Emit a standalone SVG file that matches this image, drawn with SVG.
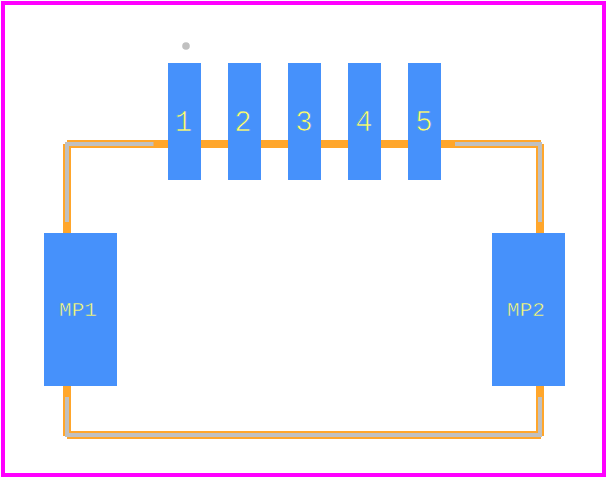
<svg xmlns="http://www.w3.org/2000/svg" width="608" height="478" viewBox="0 0 608 478">
<style>
.pad{fill:#4691fb}
.or{fill:none;stroke:#ffa62b;stroke-width:8}
.gr{fill:none;stroke:#c0c0c0;stroke-width:4}
.t{fill:#ffff66;stroke:#4691fb;stroke-width:.7px;font-family:"Liberation Mono",monospace;text-anchor:middle}
.n{font-size:29px}
.m{font-size:21px;stroke-width:.5px}
</style>
<rect width="608" height="478" fill="#fff"/>
<rect x="3" y="3" width="601" height="472" fill="none" stroke="#ff00ff" stroke-width="4"/>
<g id="connectors">
<path class="or" d="M67 144H541M67 435H541M67 144V233M540 144V233M67 386V436M540 386V436"/>
<path class="gr" d="M153.500 144H67V222M455 144H540V222M67 397V435H540V397"/>
<circle cx="186" cy="46" r="3.800" fill="#c0c0c0"/>
</g>
<g id="pad1"><rect class="pad" x="168" y="63" width="33" height="117"/><text class="t n" x="183.500" y="131">1</text></g>
<g id="pad2"><rect class="pad" x="228" y="63" width="33" height="117"/><text class="t n" x="243" y="131">2</text></g>
<g id="pad3"><rect class="pad" x="288" y="63" width="33" height="117"/><text class="t n" x="304" y="131">3</text></g>
<g id="pad4"><rect class="pad" x="348" y="63" width="33" height="117"/><text class="t n" x="364" y="131">4</text></g>
<g id="pad5"><rect class="pad" x="408" y="63" width="33" height="117"/><text class="t n" x="424" y="131">5</text></g>
<g id="mp1"><rect class="pad" x="44" y="233" width="73" height="153"/><text class="t m" x="78" y="316">MP1</text></g>
<g id="mp2"><rect class="pad" x="492" y="233" width="73" height="153"/><text class="t m" x="526" y="316">MP2</text></g>
</svg>
